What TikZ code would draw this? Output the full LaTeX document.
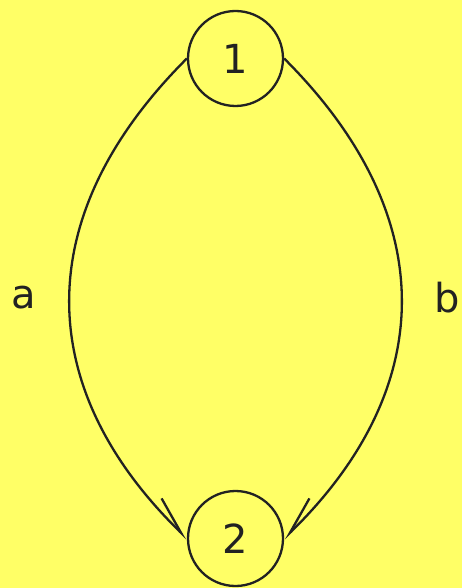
\documentclass[tikz,border=0pt]{standalone}
\usepackage{fontspec}
\setmainfont{DejaVu Sans}
\usetikzlibrary{arrows.meta,positioning}
\definecolor{bgyellow}{RGB}{255,255,102}
\definecolor{ink}{RGB}{34,34,34}

\begin{document}
\begin{tikzpicture}[x=1pt,y=-1pt]

\tikzset{line/.style={draw=ink,line width=2.3pt}}
\tikzset{arrowleft/.style={line,-{Straight Barb[harpoon,length=38pt,width=22pt]}}}
\tikzset{arrowright/.style={line,-{Straight Barb[harpoon,swap,length=38pt,width=22pt]}}}
\tikzset{textnode/.style={inner sep=0pt,text=ink,font=\fontsize{40}{48}\selectfont}}
\tikzset{statenode/.style={line,circle,inner sep=0pt,minimum size=95pt,text=ink,font=\fontsize{40}{48}\selectfont}}

\fill[bgyellow] (0,0) rectangle (462,588);
\useasboundingbox (0,0) rectangle (462,588);

\node[statenode] (one) at (235.5,58.5) {1};
\node[statenode] (two) at (235.5,538.5) {2};

\node[textnode] (labela) at (24,298) {a};
\node[textnode] (labelb) at (447,298) {b};

\path[arrowleft] (one.west) .. controls (28,217) and (34,389) .. (two.west);
\path[arrowright] (one.east) .. controls (443,217) and (437,389) .. (two.east);

\end{tikzpicture}
\end{document}
